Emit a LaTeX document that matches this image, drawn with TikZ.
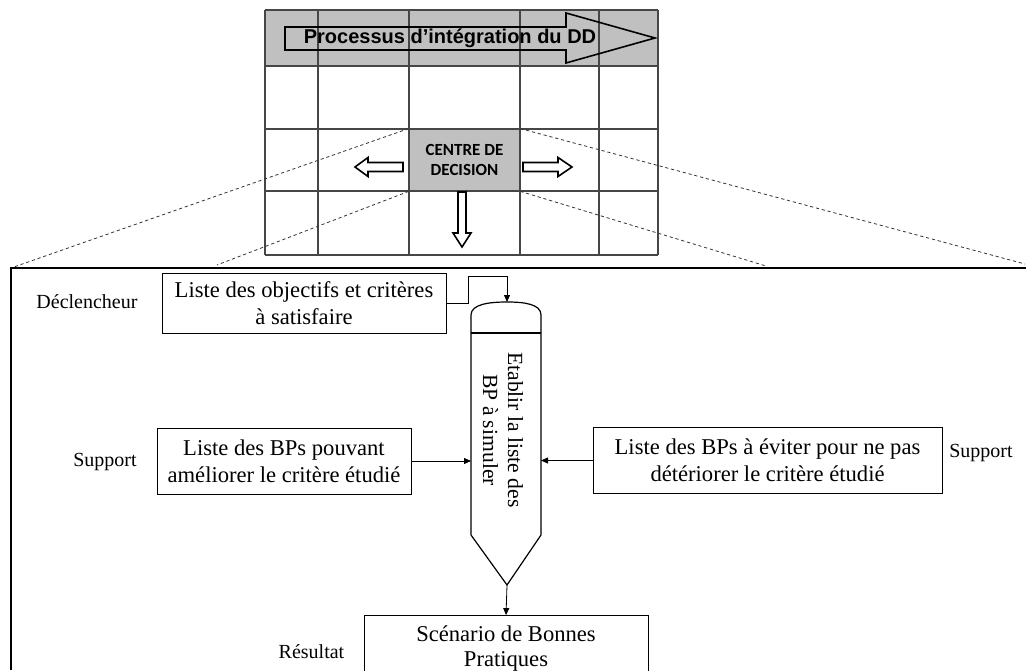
\documentclass[tikz,border=0pt]{standalone}
\usepackage{fontspec}
\setmainfont{Liberation Serif}
\newfontfamily\headfont{Liberation Sans}
\newfontfamily\cellfont{Carlito}
\usetikzlibrary{arrows.meta}
\definecolor{cellgrey}{RGB}{192,192,192}
\definecolor{gridgrey}{RGB}{70,70,70}

\begin{document}
\begin{tikzpicture}[x=0.5pt,y=0.5pt,
    gridline/.style={gridgrey, line width=0.6pt},
    zoomline/.style={black!80, line width=0.4pt, dash pattern=on 1.6pt off 1.4pt},
    hollowarrow/.style={draw=black, fill=white, line width=0.8pt, line join=miter},
    boxtext/.style={draw, line width=0.5pt, inner sep=0pt, align=center, font=\fontsize{11.3}{13.5}\selectfont},
    label/.style={font=\fontsize{10}{12}\selectfont},
    link/.style={line width=0.4pt, -{Triangle[length=3.5pt,width=3pt]}}]
    \useasboundingbox (0,0) rectangle (1026,670);

    % Top table
    \fill[cellgrey] (265,604) rectangle (658,660);
    \node[fill=cellgrey, inner sep=0pt, minimum width=55.5pt, minimum height=31pt,
          align=center, font=\cellfont\bfseries\fontsize{8.5}{10}\selectfont]
          (centre) at (464.5,510) {CENTRE DE\\DECISION};
    \foreach \x in {265,318,409,520,599,658}
        \draw[gridline] (\x,415) -- (\x,660);
    \foreach \y in {415,479,541,604,660}
        \draw[gridline] (265,\y) -- (658,\y);

    % Process arrow
    \draw[line width=0.8pt, line join=miter] (285,643) -- (566,643) -- (566,657) -- (655,632)
        -- (566,607) -- (566,620) -- (285,620) -- cycle;
    \node[font=\headfont\bfseries\fontsize{10}{12}\selectfont] (processus) at (450,632)
        {Processus d’intégration du DD};

    % Arrows around the decision centre
    \draw[hollowarrow] (403,507.5) -- (368,507.5) -- (368,512.5) -- (355,503)
        -- (368,493.5) -- (368,498.5) -- (403,498.5) -- cycle;
    \draw[hollowarrow] (523,498.5) -- (558,498.5) -- (558,493.5) -- (572,503)
        -- (558,512.5) -- (558,507.5) -- (523,507.5) -- cycle;
    \draw[hollowarrow] (458,478) -- (458,437) -- (453,437) -- (462,423)
        -- (471,437) -- (466,437) -- (466,478) -- cycle;

    % Zoom frame
    \coordinate (cadre) at (11,402);
    \coordinate (zoomA) at (217,405);
    \coordinate (zoomB) at (766,404);
    \coordinate (zoomC) at (1025,406);
    \draw[zoomline] (centre.north west) -- (cadre);
    \draw[zoomline] (centre.south west) -- (zoomA);
    \draw[zoomline] (centre.south east) -- (zoomB);
    \draw[zoomline] (centre.north east) -- (zoomC);
    \draw[line width=0.8pt] (11,0) -- (cadre) -- (1026,402);

    % Activity
    \coordinate (coltop) at (507,368);
    \coordinate (colL) at (471,209);
    \coordinate (colR) at (541,209);
    \coordinate (coltip) at (507,85);
    \draw[line width=0.6pt] (471,135) -- (471,355) .. controls (471,366) and (490,368) .. (coltop)
        .. controls (524,368) and (541,366) .. (541,355) -- (541,135) -- (coltip) -- (471,135);
    \draw[line width=1.1pt] (471,337) -- (541,337);
    \node[rotate=-90, align=center, font=\fontsize{10.8}{12.5}\selectfont] (etablir) at (503,240)
        {Etablir la liste des\\BP à simuler};

    % Inputs and output
    \node[boxtext, minimum width=142pt, minimum height=29.5pt] (liste) at (304,366.5)
        {Liste des objectifs et critères\\à satisfaire};
    \node[boxtext, minimum width=127pt, minimum height=33pt] (bpplus) at (284,209)
        {Liste des BPs pouvant\\améliorer le critère étudié};
    \node[boxtext, minimum width=174.5pt, minimum height=33pt] (bpmoins) at (767.5,209.5)
        {Liste des BPs à éviter pour ne pas\\détériorer le critère étudié};
    \node[boxtext, minimum width=142pt, minimum height=24.5pt,
          font=\fontsize{11.3}{12.5}\selectfont] (scenario) at (506,26.5)
        {\rule{0pt}{13pt}Scénario de Bonnes\\Pratiques};

    % Connectors
    \coordinate (coude) at (507,394);
    \draw[link] (liste.east) -- ++(22,0) |- (coude) -- (coltop);
    \draw[link] (bpplus.east) -- (colL);
    \draw[link] (bpmoins.west) -- (bpmoins.west -| colR);
    \draw[link] (coltip) -- (scenario.north);

    % Roles
    \node[label] (declencheur) at (87,368) {Déclencheur};
    \node[label] (supportA) at (105,208) {Support};
    \node[label] (supportB) at (981,217) {Support};
    \node[label] (resultat) at (311.5,18) {Résultat};
\end{tikzpicture}
\end{document}
